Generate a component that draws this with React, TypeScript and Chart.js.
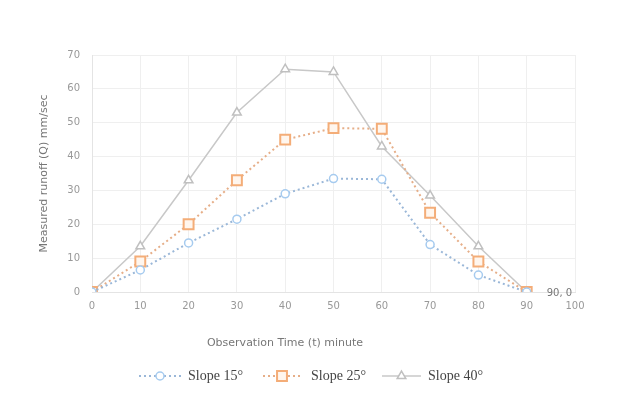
import React, { useEffect, useRef } from "react";
import { Chart, registerables } from "chart.js";

Chart.register(...registerables);

const times = [0, 10, 20, 30, 40, 50, 60, 70, 80, 90];
const slope15 = [0, 6.5, 14.5, 21.5, 29, 33.5, 33.3, 14, 5, 0];
const slope25 = [0, 9, 20, 33, 45, 48.4, 48.2, 23.4, 9, 0];
const slope40 = [0, 13.5, 33, 53, 65.8, 65, 43, 28.5, 13.5, 0];
const seriesLabels = ["Slope 15°", "Slope 25°", "Slope 40°"];
const xTitle = "Observation Time (t) minute";
const yTitle = "Measured runoff (Q) mm/sec";
const endLabel = "90, 0";

const toPoints = (ys: number[]) => times.map((t, i) => ({ x: t, y: ys[i] }));

function drawMarker(ctx: CanvasRenderingContext2D, style: string, x: number, y: number, r: number) {
  ctx.beginPath();
  if (style === "circle") {
    ctx.arc(x, y, r, 0, Math.PI * 2);
  } else if (style === "rect") {
    const s = r * Math.SQRT1_2;
    ctx.rect(x - s, y - s, 2 * s, 2 * s);
  } else {
    ctx.moveTo(x, y - r);
    ctx.lineTo(x + r * 0.866, y + r * 0.5);
    ctx.lineTo(x - r * 0.866, y + r * 0.5);
    ctx.closePath();
  }
  ctx.fill();
  ctx.stroke();
}

const legendPlugin = {
  id: "customLegend",
  afterDraw(chart: any) {
    const ctx = chart.ctx as CanvasRenderingContext2D;
    const layout = [
      { x0: 139, x1: 181, tx: 188 },
      { x0: 263, x1: 301, tx: 311 },
      { x0: 382, x1: 421, tx: 428 },
    ];
    const y = 376;
    chart.data.datasets.forEach((ds: any, i: number) => {
      const L = layout[i];
      ctx.save();
      ctx.strokeStyle = ds.borderColor;
      ctx.lineWidth = ds.borderWidth;
      ctx.setLineDash(ds.borderDash || []);
      ctx.beginPath();
      ctx.moveTo(L.x0, y);
      ctx.lineTo(L.x1, y);
      ctx.stroke();
      ctx.setLineDash([]);
      ctx.strokeStyle = ds.pointBorderColor;
      ctx.fillStyle = ds.pointBackgroundColor;
      ctx.lineWidth = ds.pointBorderWidth;
      drawMarker(ctx, ds.pointStyle, (L.x0 + L.x1) / 2, y, ds.pointRadius);
      ctx.fillStyle = "#444";
      ctx.font = "14px 'Liberation Serif', serif";
      ctx.textBaseline = "middle";
      ctx.textAlign = "left";
      ctx.fillText(seriesLabels[i], L.tx, y);
      ctx.restore();
    });
    ctx.save();
    ctx.fillStyle = "#777";
    ctx.font = "11px 'DejaVu Sans', sans-serif";
    ctx.textBaseline = "middle";
    ctx.textAlign = "center";
    ctx.fillText(xTitle, 285, 343);
    const xs = chart.scales.x;
    const ys = chart.scales.y;
    ctx.font = "10px 'DejaVu Sans', sans-serif";
    ctx.textAlign = "left";
    ctx.fillText(endLabel, xs.getPixelForValue(90) + 20, ys.getPixelForValue(0) + 1);
    ctx.restore();
  },
};

export default function App() {
  const ref = useRef<HTMLCanvasElement | null>(null);
  useEffect(() => {
    document.body.style.margin = "0";
    if (!ref.current) return;
    const chart = new Chart(ref.current, {
      type: "line",
      data: {
        datasets: [
          {
            label: seriesLabels[0],
            data: toPoints(slope15),
            borderColor: "#9ab7d8",
            borderWidth: 2,
            borderDash: [2, 3],
            pointStyle: "circle",
            pointRadius: 4,
            pointBorderColor: "#a6cbef",
            pointBackgroundColor: "#ffffff",
            pointBorderWidth: 1.5,
            tension: 0,
          },
          {
            label: seriesLabels[1],
            data: toPoints(slope25),
            borderColor: "#e6ae88",
            borderWidth: 2,
            borderDash: [2, 3],
            pointStyle: "rect",
            pointRadius: 7,
            pointBorderColor: "#f4ad78",
            pointBackgroundColor: "#fff6ee",
            pointBorderWidth: 2,
            tension: 0,
          },
          {
            label: seriesLabels[2],
            data: toPoints(slope40),
            borderColor: "#c8c8c8",
            borderWidth: 1.5,
            pointStyle: "triangle",
            pointRadius: 5,
            pointBorderColor: "#c0c0c0",
            pointBackgroundColor: "#ffffff",
            pointBorderWidth: 1.5,
            tension: 0,
          },
        ] as any,
      },
      options: {
        animation: false,
        responsive: false,
        maintainAspectRatio: false,
        layout: { padding: { left: 36, right: 49, top: 55, bottom: 0 } },
        plugins: {
          legend: { display: false },
          tooltip: { enabled: false },
        },
        scales: {
          x: {
            type: "linear",
            min: 0,
            max: 100,
            ticks: {
              stepSize: 10,
              padding: 8,
              color: "#999",
              font: { size: 10, family: "'DejaVu Sans', sans-serif" },
            },
            grid: { color: "#efefef", drawTicks: false },
            border: { color: "#e4e4e4" },
            title: { display: false, text: xTitle },
            afterFit: (s: any) => {
              s.height = 106;
            },
          },
          y: {
            min: 0,
            max: 70,
            ticks: {
              stepSize: 10,
              padding: 12,
              color: "#999",
              font: { size: 10, family: "'DejaVu Sans', sans-serif" },
            },
            grid: { color: "#efefef", drawTicks: false },
            border: { color: "#e4e4e4" },
            title: {
              display: true,
              text: yTitle,
              color: "#777",
              font: { size: 11, family: "'DejaVu Sans', sans-serif" },
              padding: { top: 2, bottom: 4 },
            },
            afterFit: (s: any) => {
              s.width = 56;
            },
          },
        },
      } as any,
      plugins: [legendPlugin],
    });
    return () => chart.destroy();
  }, []);
  return (
    <div style={{ position: "fixed", left: 0, top: 0, width: 624, height: 398, background: "#fff" }}>
      <canvas ref={ref} width={624} height={398} style={{ width: 624, height: 398 }} />
    </div>
  );
}
